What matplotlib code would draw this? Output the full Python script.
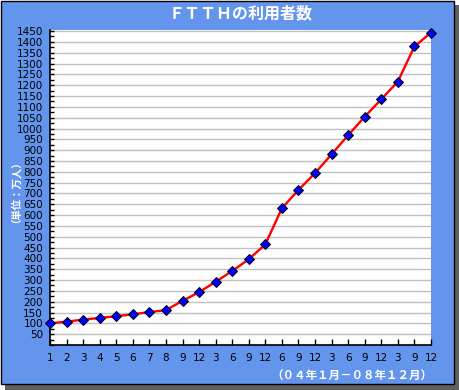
import matplotlib
matplotlib.use("Agg")
import matplotlib.pyplot as plt
from matplotlib.patches import Rectangle
from matplotlib.ticker import MultipleLocator

# ---- data ----
month_labels = ['1', '2', '3', '4', '5', '6', '7', '8', '9', '12', '3', '6', '9', '12',
                '6', '9', '12', '3', '6', '9', '12', '3', '9', '12']
subscribers = [100, 108, 117, 125, 133, 142, 152, 161, 204, 244, 292, 342, 396, 465,
               632, 716, 794, 881, 969, 1055, 1135, 1217, 1379, 1443]
y_ticks = list(range(50, 1451, 50))
title_text = "ＦＴＴＨの利用者数"
ylabel_text = "（単位：万人）"
period_text = "（０４年１月－０８年１２月）"

BLUE = "#6495ED"
W, H = 460, 390

fig = plt.figure(figsize=(W / 100, H / 100), dpi=100)
fig.patch.set_facecolor("white")

# shadow
fig.patches.append(Rectangle((5 / W, 0), (W - 5) / W, (H - 5) / H,
                             transform=fig.transFigure, facecolor="#606060",
                             edgecolor="none", zorder=-3))
# blue panel
fig.patches.append(Rectangle((0.5 / W, 6.5 / H), 454 / W, 383 / H,
                             transform=fig.transFigure, facecolor=BLUE,
                             edgecolor="black", linewidth=1.0, zorder=-2))

ax = fig.add_axes([50 / W, 45 / H, 381 / W, 315 / H])
ax.set_facecolor("white")

x = list(range(len(subscribers)))
ax.plot(x, subscribers, color="red", linewidth=1.7, zorder=3, clip_on=False)
ax.plot(x, subscribers, linestyle="none", marker="D", markersize=4.8,
        markerfacecolor="#0000ff", markeredgecolor="black", markeredgewidth=0.7,
        zorder=4, clip_on=False)

ax.set_xlim(0, len(subscribers) - 1)
ax.set_ylim(0, 1455)
ax.set_xticks(x)
ax.set_xticklabels(month_labels)
ax.set_yticks(y_ticks)
ax.set_yticklabels([str(v) for v in y_ticks])
ax.yaxis.set_minor_locator(MultipleLocator(25))

ax.grid(axis="y", which="major", color="#c0c0c0", linewidth=1.0)
ax.set_axisbelow(True)

for s in ["top", "right"]:
    ax.spines[s].set_visible(False)
for s in ["left", "bottom"]:
    ax.spines[s].set_color("black")
    ax.spines[s].set_linewidth(1.2)

ax.tick_params(axis="both", which="both", direction="in", colors="black",
               labelsize=7.5, width=1.0)
ax.tick_params(axis="y", which="both", length=3, pad=5)
ax.tick_params(axis="x", which="major", length=4, pad=6)

cjk = ["Noto Sans CJK JP", "DejaVu Sans"]
fig.text(241 / W, 1 - 13 / H, title_text, color="white", fontsize=11.5,
         fontweight="bold", family=cjk, ha="center", va="center")
fig.text(10 / W, 1 - 187 / H, ylabel_text, color="white", fontsize=7.5,
         fontweight="bold", family=cjk, ha="center", va="center", rotation=90)
fig.text(432 / W, 1 - 376 / H, period_text, color="white", fontsize=8.3,
         fontweight="bold", family=cjk, ha="right", va="center")

fig.savefig("out.png", dpi=100)
